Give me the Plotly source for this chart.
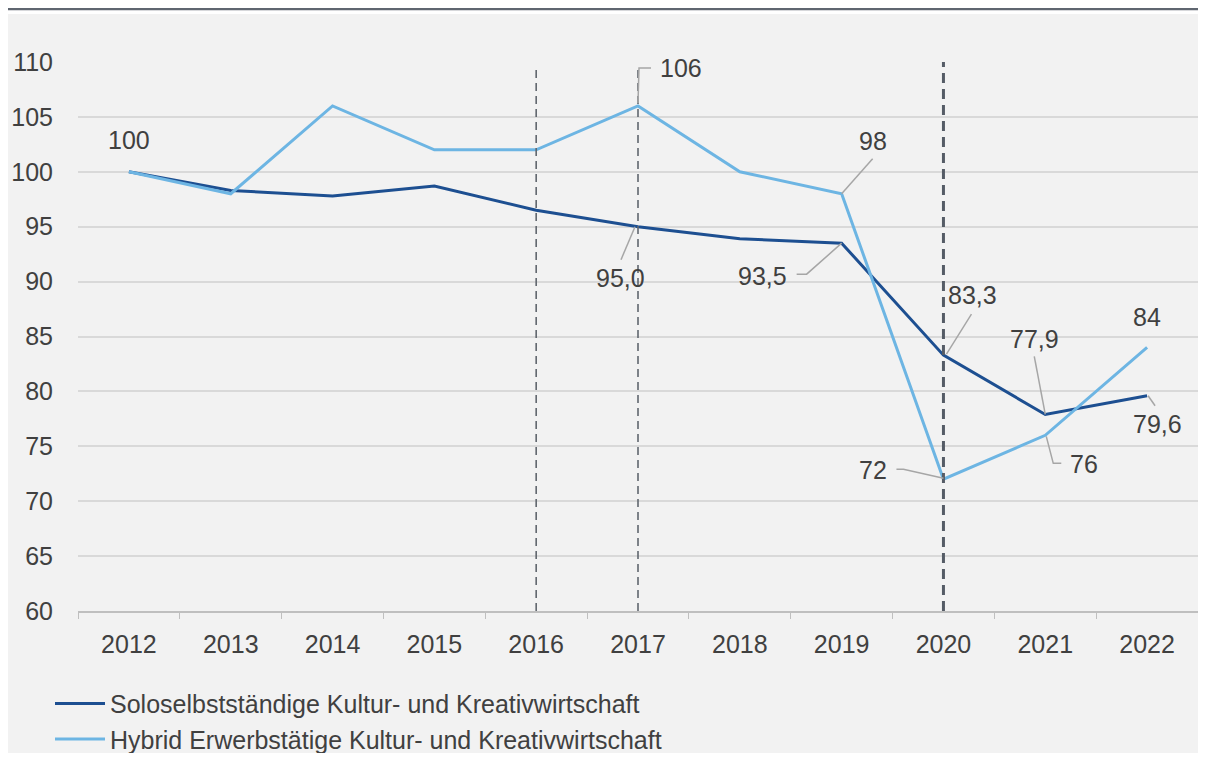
import plotly.graph_objects as go

years = ["2012", "2013", "2014", "2015", "2016", "2017", "2018", "2019", "2020", "2021", "2022"]
solo = [100, 98.3, 97.8, 98.7, 96.5, 95.0, 93.9, 93.5, 83.3, 77.9, 79.6]
hybrid = [100, 98, 106, 102, 102, 106, 100, 98, 72, 76, 84]
solo_name = "Soloselbstständige Kultur- und Kreativwirtschaft"
hybrid_name = "Hybrid Erwerbstätige Kultur- und Kreativwirtschaft"
y_ticks = list(range(60, 111, 5))
marked_years = ["2016", "2017", "2020"]

# labels: (year, value, text, dx, dy, leader path in pixels relative to point)
labels = [
    ("2012", 100, "100", 0, 32, None),
    ("2017", 106, "106", 43, 38, "M 0 3 L 1 38 L 13 38"),
    ("2017", 95.0, "95,0", -18, -51, "M -3 0 L -17 -33"),
    ("2019", 93.5, "93,5", -79, -33, "M 0 0 L -35 -31 L -45 -31"),
    ("2019", 98, "98", 31, 53, "M 0 0 L 31 35"),
    ("2020", 83.3, "83,3", 29, 60, "M 3 1 L 28 41"),
    ("2021", 77.9, "77,9", -11, 75, "M 0 0 L -11 58"),
    ("2021", 76, "76", 39, -29, "M 1 -1 L 8 -28 L 16 -28"),
    ("2020", 72, "72", -70, 9, "M 0 1 L -40 10 L -47 10"),
    ("2022", 84, "84", 0, 30, None),
    ("2022", 79.6, "79,6", 10, -28, "M 1 0 L 8 -10"),
]

FONT = "Liberation Sans, Arial, sans-serif"
TXT = "#404040"
FS = 25

fig = go.Figure()
fig.add_trace(go.Scatter(x=years, y=solo, name=solo_name, mode="lines",
                         line=dict(color="#1D4F91", width=3)))
fig.add_trace(go.Scatter(x=years, y=hybrid, name=hybrid_name, mode="lines",
                         line=dict(color="#6DB5E3", width=3)))

PH = 549.0
shapes = []
# background panel and top rule
shapes.append(dict(type="rect", xref="paper", yref="paper", x0=-0.0625, x1=1.01, y0=-0.3, y1=1 + 48 / PH,
                   fillcolor="#f2f2f2", line=dict(width=0), layer="below"))
shapes.append(dict(type="line", xref="paper", yref="paper", x0=-0.0625, x1=1.01, y0=1 + 53 / PH, y1=1 + 53 / PH,
                   line=dict(color="#5f6670", width=2.5)))
for yr in marked_years:
    i = years.index(yr)
    thick = yr == "2020"
    shapes.append(dict(type="line", xref="x", yref="y", x0=i, x1=i, y0=60, y1=110.3 if thick else 109.5,
                       line=dict(color="#555c66" if thick else "#60666e", width=3 if thick else 1.6,
                                 dash="10px,6px" if thick else "8px,5px")))

annotations = []
for yr, v, t, dx, dy, path in labels:
    i = years.index(yr)
    annotations.append(dict(x=i, y=v, xref="x", yref="y", text=t, showarrow=False,
                            xshift=dx, yshift=dy, font=dict(family=FONT, size=FS, color=TXT)))
    if path:
        shapes.append(dict(type="path", xref="x", yref="y", xsizemode="pixel", ysizemode="pixel",
                           xanchor=i, yanchor=v, path=path,
                           line=dict(color="#a6a6a6", width=1.5)))

fig.update_layout(
    width=1190, height=745,
    margin=dict(l=70, r=0, t=54, b=142, autoexpand=False),
    paper_bgcolor="white", plot_bgcolor="rgba(0,0,0,0)",
    font=dict(family=FONT, size=FS, color=TXT),
    shapes=shapes, annotations=annotations,
    legend=dict(x=-0.025, y=-0.127, xanchor="left", yanchor="top", orientation="v",
                bgcolor="rgba(0,0,0,0)", font=dict(size=25, color=TXT), tracegroupgap=0,
                itemwidth=50),
    showlegend=True,
)
fig.update_xaxes(type="category", tickson="boundaries", showgrid=False, showline=True,
                 linecolor="#bfbfbf", linewidth=1.5, ticks="outside", ticklen=6, tickcolor="#bfbfbf",
                 tickfont=dict(size=FS, color=TXT), ticklabelstandoff=10, range=[-0.5, 10.5])
fig.update_yaxes(range=[60, 110], tickvals=y_ticks, showgrid=True, gridcolor="#d9d9d9", gridwidth=1.5,
                 zeroline=False, showline=False, tickfont=dict(size=FS, color=TXT), ticklabelstandoff=24)

fig.write_html("out.html")
